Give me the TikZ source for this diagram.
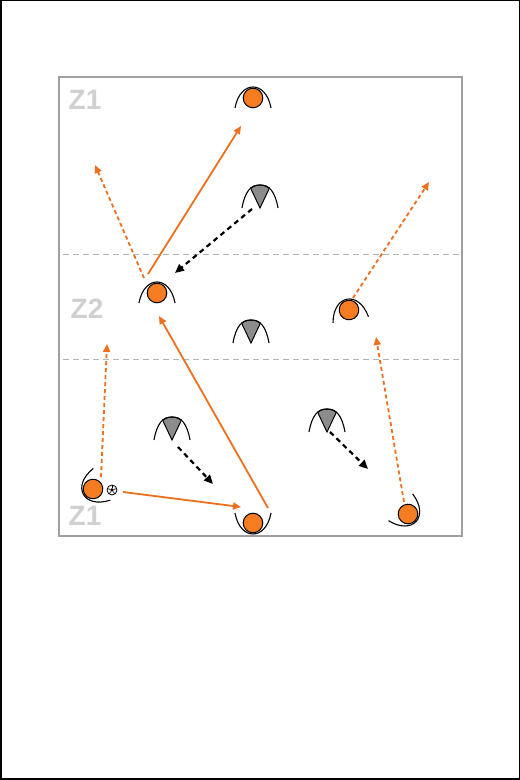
\documentclass[tikz,border=0pt]{standalone}
\usepackage{fontspec}
\setmainfont{Liberation Sans}
\usetikzlibrary{arrows.meta,shapes.geometric}
\definecolor{porange}{RGB}{245,124,32}
\definecolor{lorange}{RGB}{236,112,30}
\definecolor{zonegray}{RGB}{208,208,208}
\definecolor{fieldgray}{RGB}{160,160,160}
\definecolor{defgray}{RGB}{140,140,140}
\tikzset{
  player/.pic={
    \draw[line width=1.1pt] (-18,-10) .. controls (-13,18) and (13,18) .. (18,-10);
    \draw[fill=porange, line width=1pt] (0,0) circle[radius=9.8pt];
  },
  defender/.pic={
    \draw[fill=defgray, line width=1pt] (0,-12) -- (-9.4,7.8) .. controls (-6,10.5) and (-3,11) .. (0,11) .. controls (3,11) and (6,10.5) .. (9.4,7.8) -- cycle;
    \draw[line width=1.1pt] (-18,-12) .. controls (-15,5) and (-9,11) .. (0,11) .. controls (9,11) and (15,5) .. (18,-12);
  },
  ballpic/.pic={
    \draw[fill=white, line width=0.8pt] (0,0) circle[radius=5pt];
    \fill (90:1.8) -- (162:1.8) -- (234:1.8) -- (306:1.8) -- (18:1.8) -- cycle;
    \foreach \a in {90,162,234,306,18} {\draw[line width=0.6pt] (\a:1.8) -- (\a:4.6);}
  },
  zlabel/.style={font=\bfseries\fontsize{28}{28}\selectfont, text=zonegray, inner sep=0pt},
  runsolid/.style={draw=lorange, line width=1.8pt, -{Triangle[length=8pt,width=7pt]}},
  rundash/.style={draw=lorange, line width=1.8pt, dash pattern=on 4pt off 3pt, -{Triangle[length=8pt,width=7pt]}},
  defdash/.style={draw=black, line width=2.2pt, dash pattern=on 5pt off 4pt, -{Triangle[length=9pt,width=8pt]}},
  zoneline/.style={draw=fieldgray!80, line width=0.8pt, dash pattern=on 6pt off 4pt},
}
\begin{document}
\begin{tikzpicture}[x=1pt,y=1pt]
\useasboundingbox (0,0) rectangle (520,780);
\fill[white] (0,0) rectangle (520,780);
\draw[line width=1.5pt] (0.75,0.75) rectangle (519.25,779.25);
% field
\draw[fieldgray, line width=1.6pt] (59,244) rectangle (462,703);
\coordinate (l1a) at (63,526); \coordinate (l1b) at (459,526);
\coordinate (l2a) at (63,421); \coordinate (l2b) at (459,421);
\draw[zoneline] (l1a) -- (l1b);
\draw[zoneline] (l2a) -- (l2b);
% labels
\node[zlabel] (z1t) at (85,680) {Z1};
\node[zlabel] (z2) at (87,471) {Z2};
\node[zlabel] (z1b) at (85,264) {Z1};
% defenders
\pic (d1) at (260,584) {defender};
\pic (d2) at (251,449) {defender};
\pic (d3) at (172,352) {defender};
\pic (d4) at (327,360) {defender};
% players
\pic (p1) at (253,682) {player};
\pic (p2) at (157,487) {player};
\pic[rotate=10] (p3) at (349,470) {player};
\pic[rotate=118] (p4) at (93,291) {player};
\pic[rotate=180] (p5) at (253,257) {player};
\pic[rotate=-132] (p6) at (408,266) {player};
\pic (ball) at (112,290) {ballpic};
% connector end points
\coordinate (as) at (148,506); \coordinate (ae) at (241,654);
\coordinate (bs) at (268,272); \coordinate (be) at (159,464);
\coordinate (cs) at (123,288); \coordinate (ce) at (241,273);
\coordinate (ds) at (144,502); \coordinate (de) at (95,615);
\coordinate (es) at (353,482); \coordinate (ee) at (429,598);
\coordinate (fs) at (101,303); \coordinate (fe) at (107,436);
\coordinate (gs) at (404,278); \coordinate (ge) at (376,443);
\coordinate (hs) at (252,571); \coordinate (he) at (175,507);
\coordinate (is) at (178,333); \coordinate (ie) at (213,296);
\coordinate (js) at (330,348); \coordinate (je) at (368,311);
% runs and passes
\draw[runsolid] (as) -- (ae);
\draw[runsolid] (bs) -- (be);
\draw[runsolid] (cs) -- (ce);
\draw[rundash] (ds) -- (de);
\draw[rundash] (es) -- (ee);
\draw[rundash] (fs) -- (fe);
\draw[rundash] (gs) -- (ge);
\draw[defdash] (hs) -- (he);
\draw[defdash] (is) -- (ie);
\draw[defdash] (js) -- (je);
\end{tikzpicture}
\end{document}
